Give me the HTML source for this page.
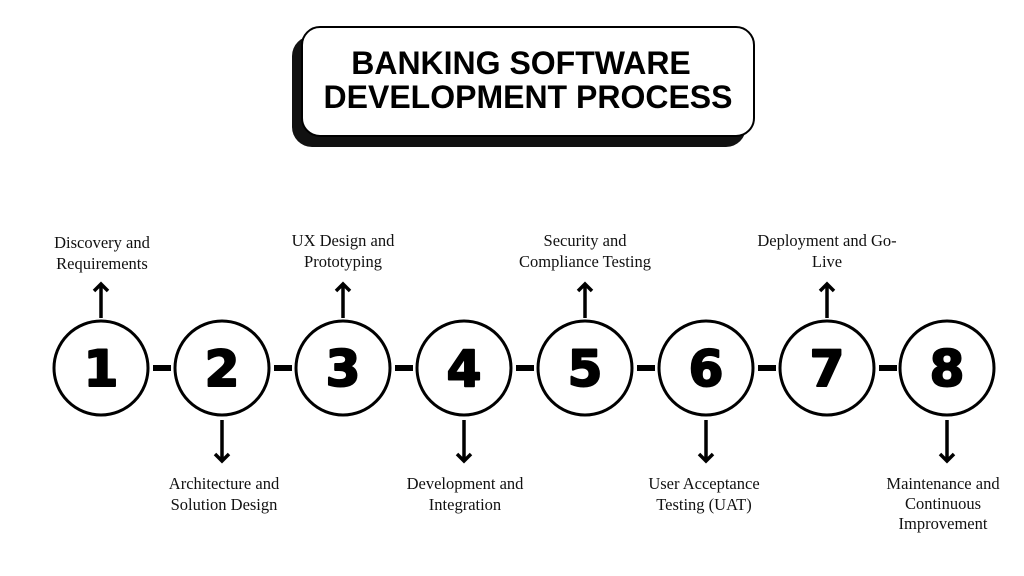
<!DOCTYPE html>
<html><head><meta charset="utf-8"><style>
html,body{margin:0;padding:0;background:#fff;width:1024px;height:576px;overflow:hidden}
</style></head><body>
<svg width="1024" height="576" viewBox="0 0 1024 576" xmlns="http://www.w3.org/2000/svg">
<rect x="0" y="0" width="1024" height="576" fill="#fff"/>
<rect x="292" y="36" width="454" height="111" rx="20" fill="#111"/>
<rect x="302" y="27" width="452" height="109" rx="18" fill="#fff" stroke="#000" stroke-width="2"/>
<g font-family="Liberation Sans, sans-serif" font-weight="bold" font-size="32" text-anchor="middle" fill="#000">
<text x="521" y="74">BANKING SOFTWARE</text>
<text x="528" y="108">DEVELOPMENT PROCESS</text>
</g>
<g fill="#000">
<rect x="153" y="365" width="18" height="6"/>
<rect x="274" y="365" width="18" height="6"/>
<rect x="395" y="365" width="18" height="6"/>
<rect x="516" y="365" width="18" height="6"/>
<rect x="637" y="365" width="18" height="6"/>
<rect x="758" y="365" width="18" height="6"/>
<rect x="879" y="365" width="18" height="6"/>
</g>
<g fill="#fff" stroke="#000" stroke-width="3">
<circle cx="101" cy="368" r="47"/>
<circle cx="222" cy="368" r="47"/>
<circle cx="343" cy="368" r="47"/>
<circle cx="464" cy="368" r="47"/>
<circle cx="585" cy="368" r="47"/>
<circle cx="706" cy="368" r="47"/>
<circle cx="827" cy="368" r="47"/>
<circle cx="947" cy="368" r="47"/>
</g>
<g font-family="DejaVu Sans, sans-serif" font-weight="bold" font-size="50" text-anchor="middle" fill="#000" stroke="#000" stroke-width="2" stroke-linejoin="round">
<text x="101" y="386">1</text>
<text x="222" y="386">2</text>
<text x="343" y="386">3</text>
<text x="464" y="386">4</text>
<text x="585" y="386">5</text>
<text x="706" y="386">6</text>
<text x="827" y="386">7</text>
<text x="947" y="386">8</text>
</g>
<g stroke="#000" stroke-width="3.5" fill="none" stroke-linecap="butt" stroke-linejoin="miter">
<path d="M101,318 V284 M94,291 L101,284 L108,291"/>
<path d="M343,318 V284 M336,291 L343,284 L350,291"/>
<path d="M585,318 V284 M578,291 L585,284 L592,291"/>
<path d="M827,318 V284 M820,291 L827,284 L834,291"/>
<path d="M222,420 V461 M215,454 L222,461 L229,454"/>
<path d="M464,420 V461 M457,454 L464,461 L471,454"/>
<path d="M706,420 V461 M699,454 L706,461 L713,454"/>
<path d="M947,420 V461 M940,454 L947,461 L954,454"/>
</g>
<g font-family="Liberation Serif, serif" font-size="16.5" text-anchor="middle" fill="#111">
<text x="102" y="248">Discovery and</text>
<text x="102" y="269">Requirements</text>
<text x="343" y="246">UX Design and</text>
<text x="343" y="267">Prototyping</text>
<text x="585" y="246">Security and</text>
<text x="585" y="267">Compliance Testing</text>
<text x="827" y="246">Deployment and Go-</text>
<text x="827" y="267">Live</text>
<text x="224" y="489">Architecture and</text>
<text x="224" y="510">Solution Design</text>
<text x="465" y="489">Development and</text>
<text x="465" y="510">Integration</text>
<text x="704" y="489">User Acceptance</text>
<text x="704" y="510">Testing (UAT)</text>
<text x="943" y="489">Maintenance and</text>
<text x="943" y="509">Continuous</text>
<text x="943" y="529">Improvement</text>
</g>
</svg>
</body></html>
